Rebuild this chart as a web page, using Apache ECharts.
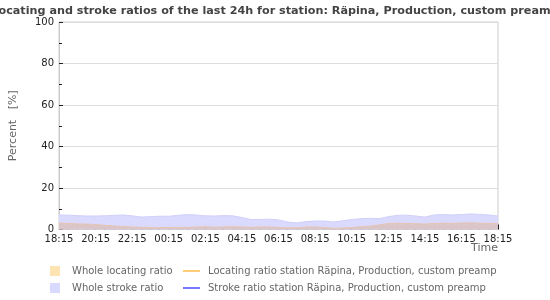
<!DOCTYPE html>
<html><head><meta charset="utf-8">
<script src="https://cdn.jsdelivr.net/npm/echarts@6/dist/echarts.min.js"></script>
<style>html,body{margin:0;padding:0;background:#fff}#c{width:550px;height:300px}</style>
</head><body><div id="c"></div>
<script>
// minutes since 18:15, every 30 min
const minutes = [];
for (let i = 0; i <= 48; i++) minutes.push(i * 30);
const wholeStroke = [7.0,6.9,6.7,6.5,6.5,6.6,6.8,7.0,6.6,6.0,6.2,6.4,6.4,6.8,7.2,7.0,6.6,6.5,6.7,6.6,5.8,4.8,4.8,5.0,4.6,3.6,3.2,3.8,4.1,4.1,3.6,4.2,4.8,5.2,5.4,5.2,6.2,6.8,6.9,6.5,6.0,7.0,7.2,7.0,7.2,7.5,7.3,7.0,6.5];
const wholeLocating = [3.1,2.9,2.7,2.6,2.4,2.0,1.7,1.4,1.2,1.0,0.9,0.9,1.0,0.9,1.0,1.2,1.3,1.1,1.2,1.3,1.2,1.1,1.2,1.2,1.0,0.8,0.8,1.2,1.2,1.0,0.6,0.7,0.9,1.4,1.6,2.2,2.9,3.0,2.9,2.8,2.6,2.9,3.0,2.9,3.1,3.2,3.0,2.9,2.8];
const stationLocating = [];
const stationStroke = [];
const yTicks = [0,20,40,60,80,100];

const pair = (xs, ys) => xs.map((x, i) => [x, ys[i]]);
function fmt(v) {
  if (v % 120 !== 0) return '';
  const t = (18 * 60 + 15 + v) % 1440;
  const h = Math.floor(t / 60), m = t % 60;
  return String(h).padStart(2, '0') + ':' + String(m).padStart(2, '0');
}
const chart = echarts.init(document.getElementById('c'));
const txt = {fontFamily: 'DejaVu Sans', fontSize: 10, color: '#666'};
chart.setOption({
  animation: false,
  title: {text: 'Locating and stroke ratios of the last 24h for station: Räpina, Production, custom preamp',
    left: 'center', top: 1, textStyle: {fontFamily: 'DejaVu Sans', fontWeight: 'bold', fontSize: 11.2, color: '#444'}},
  grid: {left: 50, right: 52, top: 22, bottom: 70.5, show: true, borderColor: '#ccc', borderWidth: 1},
  graphic: [{type: 'text', right: 52, top: 243,
    style: {text: 'Time', fontFamily: 'DejaVu Sans', fontSize: 11, fill: '#666'}}],
  legend: [
    {left: 50, top: 266, orient: 'vertical', itemWidth: 10, itemHeight: 10, itemGap: 7, padding: 0,
      textStyle: Object.assign({padding: [0, 0, 0, 7]}, txt),
      data: [{name: 'Whole locating ratio', icon: 'rect', itemStyle: {color: '#ffe4b3'}},
             {name: 'Whole stroke ratio', icon: 'rect', itemStyle: {color: '#dadaff'}}]},
    {left: 183, top: 266, orient: 'vertical', itemWidth: 17, itemHeight: 2, itemGap: 7, padding: 0,
      textStyle: Object.assign({padding: [0, 0, 0, 3]}, txt),
      data: [{name: 'Locating ratio station Räpina, Production, custom preamp', icon: 'rect', itemStyle: {color: '#ffcc77'}},
             {name: 'Stroke ratio station Räpina, Production, custom preamp', icon: 'rect', itemStyle: {color: '#7777ff'}}]}
  ],
  xAxis: {type: 'value', min: 0, max: 1440, interval: 60,
    axisLine: {lineStyle: {color: '#ccc'}},
    axisTick: {inside: true, length: 5, lineStyle: {color: '#222'}},
    minorTick: {show: true, splitNumber: 2, length: 3, lineStyle: {color: '#222'}},
    splitLine: {show: false},
    axisLabel: {formatter: fmt, fontFamily: 'DejaVu Sans', fontSize: 10, color: '#222', margin: 5, showMaxLabel: true}
  },
  yAxis: {type: 'value', min: yTicks[0], max: yTicks[yTicks.length - 1], interval: 20,
    name: 'Percent   [%]', nameLocation: 'middle', nameGap: 40, nameRotate: 90,
    nameTextStyle: {fontFamily: 'DejaVu Sans', fontSize: 11, color: '#666'},
    axisLine: {show: true, lineStyle: {color: '#ccc'}},
    axisTick: {show: true, inside: true, length: 4, lineStyle: {color: '#222'}},
    minorTick: {show: true, splitNumber: 2, length: 3, lineStyle: {color: '#222'}},
    splitLine: {lineStyle: {color: '#ddd'}},
    axisLabel: {fontFamily: 'DejaVu Sans', fontSize: 10, color: '#222', margin: 5}
  },
  series: [
    {name: 'Whole stroke ratio', type: 'line', data: pair(minutes, wholeStroke), showSymbol: false, z: 1,
      itemStyle: {color: '#dadaff'}, lineStyle: {width: 1, color: '#cfcffa'}, areaStyle: {color: '#dadaff', opacity: 1}},
    {name: 'Whole locating ratio', type: 'line', data: pair(minutes, wholeLocating), showSymbol: false, z: 2,
      itemStyle: {color: '#ffe4b3'}, lineStyle: {width: 1, color: '#e6c4b0'}, areaStyle: {color: '#dac5c8', opacity: 1}},
    {name: 'Locating ratio station Räpina, Production, custom preamp', type: 'line', data: stationLocating, showSymbol: false,
      itemStyle: {color: '#ffcc77'}, lineStyle: {width: 1.5, color: '#ffcc77'}},
    {name: 'Stroke ratio station Räpina, Production, custom preamp', type: 'line', data: stationStroke, showSymbol: false,
      itemStyle: {color: '#7777ff'}, lineStyle: {width: 1.5, color: '#7777ff'}}
  ]
});
</script></body></html>
